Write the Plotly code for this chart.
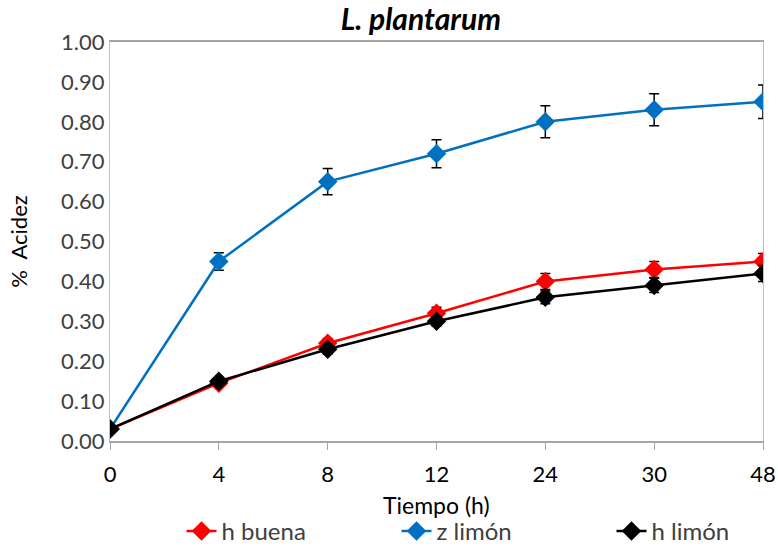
import plotly.graph_objects as go

tiempo = ["0", "4", "8", "12", "24", "30", "48"]
h_buena = [0.03, 0.145, 0.245, 0.32, 0.40, 0.43, 0.45]
h_buena_err = [0.005, 0.008, 0.012, 0.015, 0.02, 0.02, 0.02]
z_limon = [0.03, 0.45, 0.65, 0.72, 0.80, 0.83, 0.85]
z_limon_err = [0.005, 0.022, 0.033, 0.035, 0.04, 0.04, 0.042]
h_limon = [0.03, 0.15, 0.23, 0.30, 0.36, 0.39, 0.42]
h_limon_err = [0.005, 0.008, 0.012, 0.012, 0.016, 0.018, 0.02]

yticks = [0, 0.1, 0.2, 0.3, 0.4, 0.5, 0.6, 0.7, 0.8, 0.9, 1.0]

FONT = "Lato"
xs = list(range(len(tiempo)))

fig = go.Figure()
for name, vals, err, col in [
    ("h buena", h_buena, h_buena_err, "#ff0000"),
    ("z limón", z_limon, z_limon_err, "#0070c0"),
    ("h limón", h_limon, h_limon_err, "#000000"),
]:
    fig.add_trace(go.Scatter(
        x=xs, y=vals, name=name, mode="lines+markers",
        line=dict(color=col, width=2.5),
        marker=dict(symbol="diamond", size=15, color=col),
        error_y=dict(type="data", array=err, visible=True, color="#000000",
                     thickness=1.5, width=5),
    ))

fig.update_layout(
    width=778, height=554,
    margin=dict(l=110, r=15, t=42, b=113),
    paper_bgcolor="white", plot_bgcolor="white",
    font=dict(family=FONT, size=22, color="#404040"),
    title=dict(text="<b><i>L. plantarum</i></b>", xref="container", x=0.541, xanchor="center",
               yref="container", y=0.964, yanchor="middle",
               font=dict(family=FONT, size=30, color="#000000")),
    showlegend=True,
    legend=dict(orientation="h", xref="container", x=0.2333, xanchor="left",
                yref="container", y=0.0, yanchor="bottom",
                entrywidth=170, entrywidthmode="pixels",
                font=dict(family=FONT, size=24, color="#404040"),
                traceorder="normal"),
    annotations=[dict(text="Tiempo (h)", xref="paper", x=0.5, xanchor="center",
                      yref="paper", y=(441 - 505) / 399, yanchor="middle",
                      showarrow=False, font=dict(family=FONT, size=23, color="#000000"))],
)
fig.update_xaxes(
    range=[0, 6], tickmode="array", tickvals=xs, ticktext=tiempo,
    showline=True, linecolor="#a6a6a6", linewidth=1.5, mirror=True,
    ticks="outside", ticklen=7, tickcolor="#a6a6a6", showgrid=False, zeroline=False,
    ticklabelstandoff=6, automargin=False,
    tickfont=dict(family=FONT, size=22, color="#000000"),
)
fig.update_yaxes(
    range=[0, 1.0], tickmode="array", tickvals=yticks,
    ticktext=[f"{v:.2f}" for v in yticks],
    showline=True, linecolor="#bfbfbf", linewidth=1, mirror=True,
    ticks="", showgrid=False, zeroline=False, automargin=False,
    title=dict(text="%  Acidez", font=dict(family=FONT, size=22, color="#000000"), standoff=27),
    tickfont=dict(family=FONT, size=22, color="#404040"),
)

fig.write_html("out.html")
